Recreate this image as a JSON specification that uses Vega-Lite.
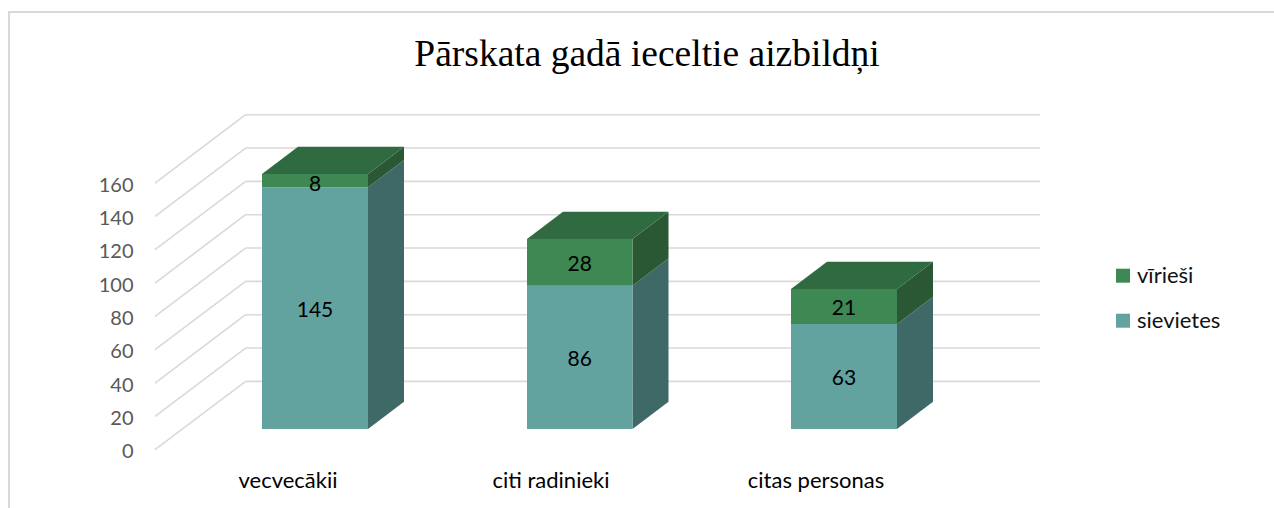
{
"$schema":"https://vega.github.io/schema/vega-lite/v6.json",
"width":885,"height":335,
"autosize":{"type":"none"},
"padding":{"left":155,"top":114.7,"right":234,"bottom":58.3},
"background":"white",
"config":{"view":{"stroke":null}},
"title":{"text":"Pārskata gadā ieceltie aizbildņi","font":"Liberation Serif","fontSize":37.5,"fontWeight":"normal","color":"#000000","anchor":"middle","frame":"group","dx":49.5,"offset":-62},
"datasets":{
"frame":[{"x":-146,"x2":1140,"y":262.6,"y2":-60}],
"diag":[{"x":0,"x2":90.6,"y":0,"y2":41},{"x":0,"x2":90.6,"y":20,"y2":61},{"x":0,"x2":90.6,"y":40,"y2":81},{"x":0,"x2":90.6,"y":60,"y2":101},{"x":0,"x2":90.6,"y":80,"y2":121},{"x":0,"x2":90.6,"y":100,"y2":141},{"x":0,"x2":90.6,"y":120,"y2":161},{"x":0,"x2":90.6,"y":140,"y2":181},{"x":0,"x2":90.6,"y":160,"y2":201},
{"x":90.6,"x2":885,"y":41,"y2":41},{"x":90.6,"x2":885,"y":61,"y2":61},{"x":90.6,"x2":885,"y":81,"y2":81},{"x":90.6,"x2":885,"y":101,"y2":101},{"x":90.6,"x2":885,"y":121,"y2":121},{"x":90.6,"x2":885,"y":141,"y2":141},{"x":90.6,"x2":885,"y":161,"y2":161},{"x":90.6,"x2":885,"y":181,"y2":181},{"x":90.6,"x2":885,"y":201,"y2":201}],
"sides":[
{"seg":"a-s","series":"sievietes","x":213,"y":12.4,"y2":157.4},{"seg":"a-s","series":"sievietes","x":249,"y":28.8,"y2":173.8},
{"seg":"a-v","series":"vīrieši","x":213,"y":157.4,"y2":165.4},{"seg":"a-v","series":"vīrieši","x":249,"y":173.8,"y2":181.8},
{"seg":"b-s","series":"sievietes","x":477.5,"y":12.4,"y2":98.4},{"seg":"b-s","series":"sievietes","x":513.5,"y":28.8,"y2":114.8},
{"seg":"b-v","series":"vīrieši","x":477.5,"y":98.4,"y2":126.4},{"seg":"b-v","series":"vīrieši","x":513.5,"y":114.8,"y2":142.8},
{"seg":"c-s","series":"sievietes","x":742,"y":12.4,"y2":75.4},{"seg":"c-s","series":"sievietes","x":778,"y":28.8,"y2":91.8},
{"seg":"c-v","series":"vīrieši","x":742,"y":75.4,"y2":96.4},{"seg":"c-v","series":"vīrieši","x":778,"y":91.8,"y2":112.8}],
"tops":[
{"seg":"a","y":165.4,"x":107,"x2":213},{"seg":"a","y":181.8,"x":143,"x2":249},
{"seg":"b","y":126.4,"x":372,"x2":477.5},{"seg":"b","y":142.8,"x":408,"x2":513.5},
{"seg":"c","y":96.4,"x":636,"x2":742},{"seg":"c","y":112.8,"x":672,"x2":778}],
"fronts":[
{"category":"vecvecākii","series":"sievietes","value":145,"x":107,"x2":213,"xc":160,"y":12.4,"y2":157.4,"ym":84.9},
{"category":"vecvecākii","series":"vīrieši","value":8,"x":107,"x2":213,"xc":160,"y":157.4,"y2":165.4,"ym":160.4},
{"category":"citi radinieki","series":"sievietes","value":86,"x":372,"x2":477.5,"xc":424.75,"y":12.4,"y2":98.4,"ym":55.4},
{"category":"citi radinieki","series":"vīrieši","value":28,"x":372,"x2":477.5,"xc":424.75,"y":98.4,"y2":126.4,"ym":112.4},
{"category":"citas personas","series":"sievietes","value":63,"x":636,"x2":742,"xc":689,"y":12.4,"y2":75.4,"ym":43.9},
{"category":"citas personas","series":"vīrieši","value":21,"x":636,"x2":742,"xc":689,"y":75.4,"y2":96.4,"ym":85.9}],
"cats":[{"category":"vecvecākii","x":133,"y":-19},{"category":"citi radinieki","x":396,"y":-19},{"category":"citas personas","x":661,"y":-19}]
},
"resolve":{"scale":{"color":"independent"}},
"layer":[
{"data":{"name":"frame"},"mark":{"type":"rect","fill":null,"stroke":"#D9D9D9","strokeWidth":2},
"encoding":{"x":{"field":"x","type":"quantitative","scale":{"domain":[0,885],"nice":false,"zero":false},"axis":null},"x2":{"field":"x2"},"y":{"field":"y","type":"quantitative","scale":{"domain":[0,201],"nice":false,"zero":false},"axis":{"values":[0,20,40,60,80,100,120,140,160],"title":null,"grid":false,"domain":false,"ticks":false,"labelFont":"Lato","labelFontSize":20,"labelColor":"#595959","labelPadding":22,"labelOffset":2}},"y2":{"field":"y2"}}},
{"data":{"name":"diag"},"mark":{"type":"rule","color":"#D9D9D9","strokeWidth":1.6},
"encoding":{"x":{"field":"x","type":"quantitative"},"x2":{"field":"x2"},"y":{"field":"y","type":"quantitative"},"y2":{"field":"y2"}}},
{"data":{"name":"sides"},"mark":{"type":"area","orient":"vertical"},
"encoding":{"x":{"field":"x","type":"quantitative"},"y":{"field":"y","type":"quantitative"},"y2":{"field":"y2"},"detail":{"field":"seg"},"color":{"field":"series","type":"nominal","legend":null,"scale":{"domain":["vīrieši","sievietes"],"range":["#2A5834","#3F6966"]}}}},
{"data":{"name":"tops"},"mark":{"type":"area","orient":"horizontal","color":"#2F6A40"},
"encoding":{"y":{"field":"y","type":"quantitative"},"x":{"field":"x","type":"quantitative"},"x2":{"field":"x2"},"detail":{"field":"seg"}}},
{"data":{"name":"fronts"},"mark":{"type":"rect"},
"encoding":{"x":{"field":"x","type":"quantitative"},"x2":{"field":"x2"},"y":{"field":"y","type":"quantitative"},"y2":{"field":"y2"},"color":{"field":"series","type":"nominal","scale":{"domain":["vīrieši","sievietes"],"range":["#3E8853","#62A39F"]},"legend":{"title":null,"orient":"none","legendX":957,"legendY":150,"symbolType":"square","symbolSize":196,"symbolStrokeWidth":0,"symbolOpacity":1,"labelFont":"Lato","labelFontSize":22,"labelColor":"#111111","labelOffset":3,"rowPadding":23,"padding":0}}}},
{"data":{"name":"fronts"},"mark":{"type":"text","font":"Lato","fontSize":21,"color":"#000000","dy":2.5},
"encoding":{"x":{"field":"xc","type":"quantitative"},"y":{"field":"ym","type":"quantitative"},"text":{"field":"value","type":"quantitative"}}},
{"data":{"name":"cats"},"mark":{"type":"text","font":"Lato","fontSize":22,"color":"#000000"},
"encoding":{"x":{"field":"x","type":"quantitative"},"y":{"field":"y","type":"quantitative"},"text":{"field":"category","type":"nominal"}}}
]
}
